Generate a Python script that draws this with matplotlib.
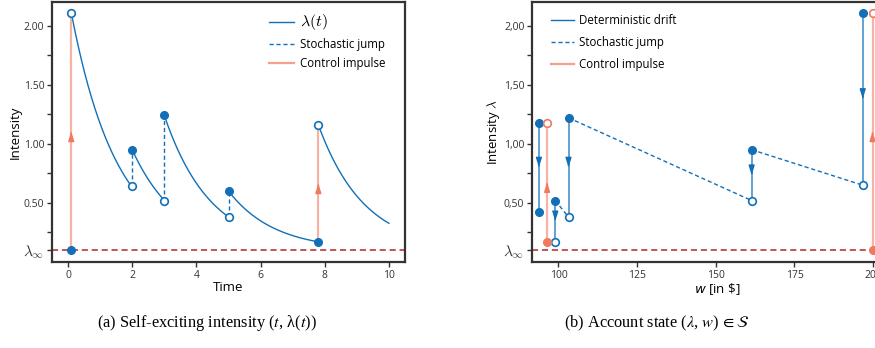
import numpy as np
import matplotlib
matplotlib.use('Agg')
import matplotlib.pyplot as plt
from matplotlib.lines import Line2D

plt.rcParams['font.family'] = ['Open Sans', 'DejaVu Sans']
plt.rcParams['mathtext.fontset'] = 'cm'

BLUE = '#1170b8'
RED = '#f07a5e'
RED_LINE = '#f4a08c'
DARK_RED = '#b0282a'
GREY = '#333333'

# ---- panel (a): intensity over time ----
lam_inf = 0.1
beta = 0.7
t_end = 10.0
event_t = [0.1, 2.0, 3.0, 5.0, 7.8]
event_pre = [0.10, 0.64, 0.52, 0.38, 0.17]
event_post = [2.11, 0.95, 1.24, 0.60, 1.16]
event_kind = ['control', 'jump', 'jump', 'jump', 'control']

# ---- panel (b): account state (w, lambda) ----
drift_w = [93.8, 99.0, 103.2, 161.4, 196.7]
drift_top = [1.18, 0.52, 1.22, 0.95, 2.11]
drift_bottom = [0.42, 0.17, 0.38, 0.52, 0.65]
drift_bottom_filled = [True, False, False, False, False]
jump_w0 = [99.0, 103.2, 161.4]
jump_l0 = [0.52, 1.22, 0.95]
jump_w1 = [103.2, 161.4, 196.7]
jump_l1 = [0.38, 0.52, 0.65]
ctrl_w = [96.4, 199.8]
ctrl_lo = [0.17, 0.10]
ctrl_hi = [1.18, 2.11]

yticks = [lam_inf, 0.5, 1.0, 1.5, 2.0]
yminor = [0.25, 0.75, 1.25, 1.75]
ylab_a = [r'$\lambda_\infty$', '0.50', '1.00', '1.50', '2.00']
ylab_b = [r'$\lambda_\infty$', '0,50', '1,00', '1,50', '2,00']


def arrow_head(ax, x, y0, y1, color):
    # small head at the middle of a vertical segment, pointing y0 -> y1
    ym = 0.5 * (y0 + y1)
    d = 0.02 * np.sign(y1 - y0)
    ax.annotate('', xy=(x, ym), xytext=(x, ym - d),
                arrowprops=dict(arrowstyle='-|>,head_length=0.8,head_width=0.25',
                                color=color, lw=1.0, mutation_scale=7,
                                shrinkA=0, shrinkB=0), zorder=4)


def style_axes(ax, labels):
    for s in ax.spines.values():
        s.set_linewidth(1.6)
        s.set_color(GREY)
    ax.set_ylim(0, 2.2)
    ax.set_yticks(yticks)
    ax.set_yticklabels(labels)
    ax.set_yticks(yminor, minor=True)
    ax.tick_params(which='both', direction='out', length=3.5, width=1.0,
                   colors=GREY, labelsize=7.5, pad=2)
    ax.get_yticklabels()[0].set_fontsize(11)
    ax.axhline(lam_inf, color=DARK_RED, ls='--', lw=1.1, dashes=(4, 2.5), zorder=1)


fig = plt.figure(figsize=(8.75, 3.48), dpi=100)
ax1 = fig.add_axes([52 / 875, 86 / 348, 353 / 875, 260 / 348])
ax2 = fig.add_axes([532 / 875, 86 / 348, 370 / 875, 260 / 348])

# panel (a)
ms = 5.5
for i, (t, pre, post, kind) in enumerate(zip(event_t, event_pre, event_post, event_kind)):
    t_next = event_t[i + 1] if i + 1 < len(event_t) else t_end
    tt = np.linspace(t, t_next, 200)
    ax1.plot(tt, lam_inf + (post - lam_inf) * np.exp(-beta * (tt - t)), color=BLUE, lw=1.0, zorder=2)
    if kind == 'control':
        ax1.plot([t, t], [pre, post], color=RED_LINE, lw=1.6, alpha=0.8, zorder=2)
        arrow_head(ax1, t, pre, post, RED)
        ax1.plot(t, pre, 'o', color=BLUE, ms=ms, zorder=5)
        ax1.plot(t, post, 'o', mfc='white', mec=BLUE, mew=1.2, ms=ms, zorder=5)
    else:
        ax1.plot([t, t], [pre, post], color=BLUE, ls='--', lw=1.0, dashes=(3, 2), zorder=2)
        ax1.plot(t, pre, 'o', mfc='white', mec=BLUE, mew=1.2, ms=ms, zorder=5)
        ax1.plot(t, post, 'o', color=BLUE, ms=ms, zorder=5)

ax1.set_xlim(-0.5, 10.5)
ax1.set_xticks([0, 2, 4, 6, 8, 10])
style_axes(ax1, ylab_a)
ax1.set_xlabel('Time', fontsize=9.5, labelpad=0)
ax1.set_ylabel('Intensity', fontsize=9.5, labelpad=1)
h1 = [Line2D([], [], color=BLUE, lw=1.0),
      Line2D([], [], color=BLUE, lw=1.0, ls='--', dashes=(3, 2)),
      Line2D([], [], color=RED_LINE, lw=1.6)]
leg1 = ax1.legend(h1, [r'$\lambda(t)$', 'Stochastic jump', 'Control impulse'],
                  loc='upper left', bbox_to_anchor=(0.585, 1.0), frameon=False,
                  fontsize=8.3, handlelength=2.2, handletextpad=0.5, labelspacing=0.5)
leg1.get_texts()[0].set_fontsize(11.5)

# panel (b)
for w, top, bot, filled in zip(drift_w, drift_top, drift_bottom, drift_bottom_filled):
    ax2.plot([w, w], [top, bot], color=BLUE, lw=1.3, alpha=0.7, zorder=2)
    arrow_head(ax2, w, top, bot, BLUE)
    ax2.plot(w, top, 'o', color=BLUE, ms=ms, zorder=5)
    if filled:
        ax2.plot(w, bot, 'o', color=BLUE, ms=ms, zorder=5)
    else:
        ax2.plot(w, bot, 'o', mfc='white', mec=BLUE, mew=1.2, ms=ms, zorder=5)

for w0, l0, w1, l1 in zip(jump_w0, jump_l0, jump_w1, jump_l1):
    ax2.plot([w0, w1], [l0, l1], color=BLUE, ls='--', lw=1.0, dashes=(3, 2), zorder=2)

for w, lo, hi in zip(ctrl_w, ctrl_lo, ctrl_hi):
    ax2.plot([w, w], [lo, hi], color=RED_LINE, lw=1.6, alpha=0.8, zorder=2)
    arrow_head(ax2, w, lo, hi, RED)
    ax2.plot(w, lo, 'o', color=RED, ms=ms, zorder=5)
    ax2.plot(w, hi, 'o', mfc='white', mec=RED, mew=1.2, ms=ms, zorder=5)

ax2.set_xlim(91.6, 91.6 + 370 / 3.147)
ax2.set_xticks([100, 125, 150, 175, 200])
style_axes(ax2, ylab_b)
ax2.set_xlabel(r'$w$ [in \$]', fontsize=9.5, labelpad=0, math_fontfamily='dejavusans')
ax2.set_ylabel(r'Intensity $\lambda$', fontsize=9.5, labelpad=1)
h2 = [Line2D([], [], color=BLUE, lw=1.0),
      Line2D([], [], color=BLUE, lw=1.0, ls='--', dashes=(3, 2)),
      Line2D([], [], color=RED_LINE, lw=1.6)]
ax2.legend(h2, ['Deterministic drift', 'Stochastic jump', 'Control impulse'],
           loc='upper left', bbox_to_anchor=(0.022, 0.995), frameon=False,
           fontsize=8.3, handlelength=2.0, handletextpad=0.45, labelspacing=0.8)

# captions
cap = dict(fontsize=11.8, family=['Liberation Serif', 'DejaVu Serif'], ha='center', va='center',
           math_fontfamily='stix')
fig.text(207 / 875, 1 - 323 / 348, r'(a) Self-exciting intensity ($t$, λ($t$))', **cap)
fig.text(657 / 875, 1 - 323 / 348, r'(b) Account state ($\lambda$, $w$)$\,\in\mathcal{S}$', **cap)

fig.savefig('out.png', dpi=100)
